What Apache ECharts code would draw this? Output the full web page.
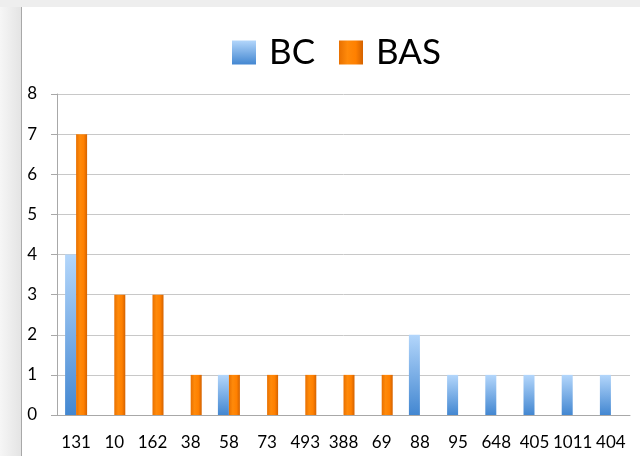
<!DOCTYPE html>
<html>
<head>
<meta charset="utf-8">
<script src="https://cdn.jsdelivr.net/npm/echarts@6/dist/echarts.min.js"></script>
<style>
  html, body { margin: 0; padding: 0; background: #fff; }
  #chart { width: 640px; height: 456px; }
</style>
</head>
<body>
<div id="chart"></div>
<script>
// categories along x
const categories = ['131', '10', '162', '38', '58', '73', '493', '388', '69', '88', '95', '648', '405', '1011', '404'];
// series values
const bcValues = [4, 0, 0, 0, 1, 0, 0, 0, 0, 2, 1, 1, 1, 1, 1];
const basValues = [7, 3, 3, 1, 1, 1, 1, 1, 1, 0, 0, 0, 0, 0, 0];

const chart = echarts.init(document.getElementById('chart'));

const blueFill = new echarts.graphic.LinearGradient(0, 0, 0, 1, [
    { offset: 0, color: '#b3d6fb' },
    { offset: 1, color: '#4387d1' }
]);
const orangeFill = new echarts.graphic.LinearGradient(0, 0, 1, 0, [
    { offset: 0, color: '#e87000' },
    { offset: 0.35, color: '#ff8a0a' },
    { offset: 0.7, color: '#ff8000' },
    { offset: 1, color: '#d46200' }
]);

const option = {
    animation: false,
    textStyle: { fontFamily: 'Lato, "Open Sans", sans-serif' },
    graphic: [
        // page shadow strips at left and top
        { type: 'rect', left: 0, top: 0, shape: { width: 21, height: 456 },
          style: { fill: new echarts.graphic.LinearGradient(0, 0, 1, 0, [
              { offset: 0, color: '#f6f6f6' }, { offset: 1, color: '#e4e4e4' }]) }, z: -1 },
        { type: 'rect', left: 0, top: 0, shape: { width: 640, height: 7 },
          style: { fill: '#eeeeee' }, z: -1 },
        { type: 'line', shape: { x1: 21.5, y1: 7, x2: 21.5, y2: 456 },
          style: { stroke: '#a8a8a8', lineWidth: 1 } }
    ],
    legend: {
        top: 30,
        left: 227,
        itemWidth: 24,
        itemHeight: 24,
        itemGap: 24,
        icon: 'rect',
        textStyle: { fontSize: 35, color: '#000', fontFamily: 'Lato, sans-serif', padding: [0, 0, 0, 8] },
        data: ['BC', 'BAS']
    },
    grid: { left: 57, right: 10, top: 94, bottom: 41 },
    xAxis: {
        type: 'category',
        data: categories,
        axisLine: { lineStyle: { color: '#a8a8a8' } },
        axisTick: { show: false },
        axisLabel: { color: '#000', fontSize: 17, margin: 19, interval: 0 }
    },
    yAxis: {
        type: 'value',
        min: 0,
        max: 8,
        interval: 1,
        axisLine: { show: true, lineStyle: { color: '#a8a8a8' } },
        axisTick: { show: true, length: 6, lineStyle: { color: '#a8a8a8' } },
        splitLine: { lineStyle: { color: '#c8c8c8' } },
        axisLabel: { color: '#000', fontSize: 17, margin: 20 }
    },
    series: [
        {
            name: 'BC',
            type: 'bar',
            data: bcValues,
            barWidth: 11,
            barGap: '0%',
            itemStyle: { color: blueFill }
        },
        {
            name: 'BAS',
            type: 'bar',
            data: basValues,
            barWidth: 11,
            itemStyle: { color: orangeFill }
        }
    ]
};

chart.setOption(option);
</script>
</body>
</html>
